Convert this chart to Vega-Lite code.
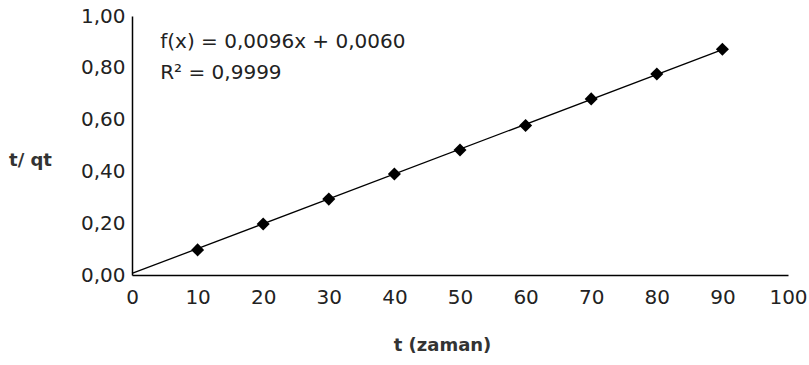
{
  "$schema": "https://vega.github.io/schema/vega-lite/v6.json",
  "width": 656,
  "height": 259,
  "autosize": "none",
  "padding": {"left": 132, "top": 16, "right": 21, "bottom": 90},
  "background": "white",
  "config": {
    "view": {"stroke": null},
    "locale": {"number": {"decimal": ",", "thousands": ".", "grouping": [3], "currency": ["", ""]}},
    "font": "DejaVu Sans"
  },
  "datasets": {
    "points": [
      {"t": 10, "tq": 0.097},
      {"t": 20, "tq": 0.197},
      {"t": 30, "tq": 0.293},
      {"t": 40, "tq": 0.39},
      {"t": 50, "tq": 0.483},
      {"t": 60, "tq": 0.577},
      {"t": 70, "tq": 0.68},
      {"t": 80, "tq": 0.776},
      {"t": 90, "tq": 0.872}
    ],
    "trend": [
      {"t": 0, "tq": 0.006},
      {"t": 90, "tq": 0.87}
    ],
    "notes": [
      {"t": 4.3, "tq": 0.9, "label": "f(x) = 0,0096x + 0,0060"},
      {"t": 4.3, "tq": 0.78, "label": "R² = 0,9999"}
    ]
  },
  "layer": [
    {
      "data": {"name": "trend"},
      "mark": {"type": "line", "color": "black", "strokeWidth": 1.3},
      "encoding": {
        "x": {
          "field": "t", "type": "quantitative",
          "scale": {"domain": [0, 100], "nice": false, "zero": true},
          "axis": {
            "values": [0, 10, 20, 30, 40, 50, 60, 70, 80, 90, 100],
            "grid": false, "ticks": false, "domainColor": "black", "domainWidth": 1.5,
            "labelFlush": false, "labelOverlap": false,
            "labelFontSize": 20, "labelColor": "#222", "labelPadding": 12, "labelFont": "DejaVu Sans",
            "title": "t (zaman)", "titleFontSize": 18, "titleFontWeight": "bold", "titleColor": "#333",
            "titleAlign": "center", "titleBaseline": "middle", "titleX": 310, "titleY": 70,
            "titleFont": "DejaVu Sans"
          }
        },
        "y": {
          "field": "tq", "type": "quantitative",
          "scale": {"domain": [0, 1], "nice": false},
          "axis": {
            "values": [0, 0.2, 0.4, 0.6, 0.8, 1.0], "format": ".2f",
            "grid": false, "ticks": false, "domainColor": "black", "domainWidth": 1.5,
            "labelOverlap": false,
            "labelFontSize": 20, "labelColor": "#222", "labelPadding": 7, "labelFont": "DejaVu Sans",
            "title": "t/ qt", "titleFontSize": 18, "titleFontWeight": "bold", "titleColor": "#333",
            "titleAngle": 0, "titleAlign": "center", "titleBaseline": "middle",
            "titleX": -102, "titleY": 144, "titleFont": "DejaVu Sans"
          }
        }
      }
    },
    {
      "data": {"name": "points"},
      "mark": {"type": "point", "shape": "diamond", "filled": true, "color": "black", "opacity": 1, "size": 170},
      "encoding": {
        "x": {"field": "t", "type": "quantitative"},
        "y": {"field": "tq", "type": "quantitative"}
      }
    },
    {
      "data": {"name": "notes"},
      "mark": {"type": "text", "align": "left", "baseline": "middle", "fontSize": 20, "color": "#222", "font": "DejaVu Sans"},
      "encoding": {
        "x": {"field": "t", "type": "quantitative"},
        "y": {"field": "tq", "type": "quantitative"},
        "text": {"field": "label"}
      }
    }
  ]
}
